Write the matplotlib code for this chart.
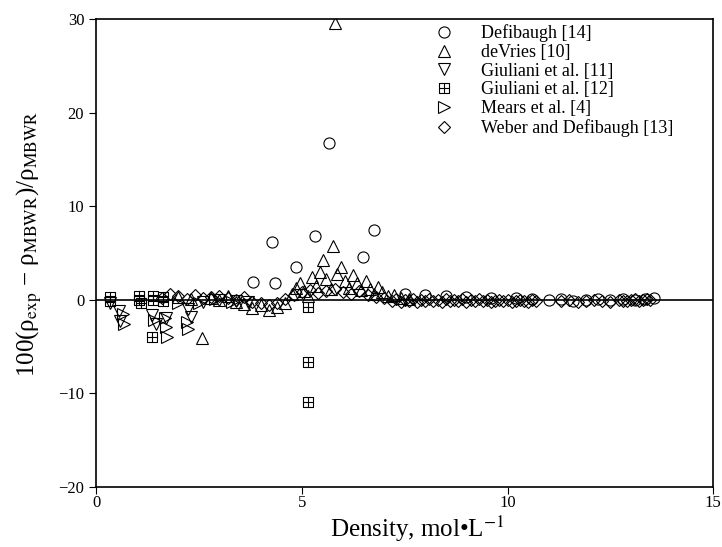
import matplotlib
matplotlib.use("Agg")
import matplotlib.pyplot as plt
from matplotlib.path import Path

plt.rcParams['font.family'] = ['Liberation Serif', 'DejaVu Serif']
plt.rcParams['mathtext.fontset'] = 'stix'

# Defibaugh [14]
defi_x = [3.82, 4.28, 4.35, 4.86, 5.32, 5.67, 6.49, 6.76, 7.5, 8.0, 8.5, 9.0, 9.6,
          10.2, 10.6, 11.0, 11.3, 11.6, 11.9, 12.2, 12.5, 12.8, 13.1, 13.35, 13.55]
defi_y = [1.9, 6.2, 1.8, 3.5, 6.8, 16.8, 4.6, 7.5, 0.6, 0.5, 0.4, 0.3, 0.2,
          0.2, 0.1, 0.0, 0.1, -0.1, 0.0, 0.1, 0.0, 0.1, 0.0, 0.1, 0.2]

# deVries [10]
devr_x = [2.0, 2.3, 2.58, 2.8, 3.0, 3.2, 3.4, 3.6, 3.8, 4.0, 4.2, 4.4, 4.6, 4.75,
          4.85, 4.95, 5.05, 5.15, 5.25, 5.35, 5.45, 5.52, 5.6, 5.7, 5.76, 5.81,
          5.85, 5.96, 6.05, 6.15, 6.25, 6.35, 6.45, 6.55, 6.65, 6.75, 6.85, 6.95,
          7.1, 7.25, 7.4, 7.6]
devr_y = [0.3, 0.1, -4.1, 0.2, 0.0, 0.4, -0.2, -0.5, -0.9, -0.6, -1.1, -0.8, -0.4, 0.6,
          1.3, 1.8, 0.9, 0.4, 2.4, 1.5, 3.0, 4.3, 2.2, 1.2, 5.7, 29.6,
          2.8, 3.5, 2.0, 1.3, 2.6, 1.8, 1.0, 2.0, 1.2, 0.6, 1.4, 0.8,
          0.4, 0.5, 0.2, 0.1]

# Giuliani et al. [11]
giu11_x = [0.35, 0.55, 0.58, 1.36, 1.45, 1.7, 2.24, 2.3, 2.6, 3.0, 3.4, 3.7]
giu11_y = [-0.4, -1.2, -2.3, -1.6, -2.6, -1.9, -1.0, -1.8, -0.2, 0.0, -0.1, -0.2]

# Giuliani et al. [12]
giu12_x = [0.34, 0.34, 1.05, 1.05, 1.1, 1.39, 1.39, 1.36, 1.63, 1.63, 5.15, 5.15, 5.15]
giu12_y = [0.3, -0.1, 0.4, 0.0, -0.3, 0.4, 0.0, -4.0, 0.3, -0.1, -0.8, -6.7, -10.9]

# Mears et al. [4]
mears_x = [0.66, 0.68, 1.4, 1.68, 1.7, 1.72, 2.0, 2.22, 2.24, 2.5, 2.9, 3.3]
mears_y = [-1.5, -2.6, -2.2, -2.0, -2.9, -4.0, -0.3, -2.4, -3.1, -0.3, 0.1, -0.2]

# Weber and Defibaugh [13]
weber_x = [1.6, 1.8, 2.0, 2.2, 2.4, 2.6, 2.8, 3.0, 3.2, 3.4, 3.6, 3.8, 4.0, 4.2,
           4.4, 4.6, 4.8, 5.0, 5.2, 5.4, 5.6, 5.8, 6.0, 6.2, 6.4, 6.6, 6.8, 7.0,
           7.2, 7.3, 7.4, 7.5, 7.6, 7.7, 7.8, 7.9, 8.0, 8.1, 8.2, 8.3, 8.4, 8.5,
           8.6, 8.7, 8.8, 8.9, 9.0, 9.1, 9.2, 9.3, 9.4, 9.5, 9.6, 9.7, 9.8, 9.9,
           10.0, 10.1, 10.2, 10.3, 10.4, 10.5, 10.6, 10.7,
           11.3, 11.5, 11.7, 11.9, 12.1, 12.3, 12.5, 12.7, 12.8, 12.9, 13.0, 13.1,
           13.2, 13.3, 13.4, 13.45]
weber_y = [0.2, 0.6, 0.4, 0.1, 0.5, 0.2, 0.3, 0.4, 0.2, 0.0, 0.3, -0.2, -0.4, -0.6,
           -0.3, 0.1, 0.5, 0.8, 1.0, 0.7, 0.9, 1.2, 0.8, 0.6, 0.9, 0.5, 0.3, 0.2,
           -0.1, 0.1, -0.2, 0.0, -0.1, 0.1, -0.2, 0.0, -0.1, 0.1, -0.1, 0.0, -0.2, 0.1,
           -0.1, 0.0, -0.1, 0.1, -0.2, 0.0, -0.1, 0.1, -0.1, 0.0, -0.2, -0.1, 0.0, -0.1,
           0.0, -0.2, -0.1, 0.0, -0.1, -0.2, 0.0, -0.1,
           -0.1, 0.0, -0.2, -0.1, 0.0, -0.1, -0.2, 0.0, -0.1, -0.1, 0.0, 0.1,
           -0.1, 0.0, 0.1, 0.0]

labels = ['Defibaugh [14]', 'deVries [10]', 'Giuliani et al. [11]',
          'Giuliani et al. [12]', 'Mears et al. [4]', 'Weber and Defibaugh [13]']

# square with a cross inside
boxplus = Path([(-1, -1), (1, -1), (1, 1), (-1, 1), (-1, -1), (-1, 0), (1, 0), (0, -1), (0, 1)],
               [Path.MOVETO, Path.LINETO, Path.LINETO, Path.LINETO, Path.CLOSEPOLY,
                Path.MOVETO, Path.LINETO, Path.MOVETO, Path.LINETO])

fig = plt.figure(figsize=(7.22, 5.47), dpi=100)
ax = fig.add_axes([0.133, 0.110, 0.855, 0.855])

series = [(defi_x, defi_y, 'o', 8), (devr_x, devr_y, '^', 8.5), (giu11_x, giu11_y, 'v', 8),
          (giu12_x, giu12_y, boxplus, 7), (mears_x, mears_y, '>', 8), (weber_x, weber_y, 'D', 6.5)]
for (xs, ys, m, ms), lab in zip(series, labels):
    ax.plot(xs, ys, linestyle='none', marker=m, ms=ms, mfc='none', mec='black',
            mew=0.8, label=lab)

ax.axhline(0, color='black', lw=1.2, zorder=0)
ax.set_xlim(0, 15)
ax.set_ylim(-20, 30)
ax.set_xticks([0, 5, 10, 15])
ax.set_yticks([-20, -10, 0, 10, 20, 30])
ax.set_yticklabels(['\u221220', '\u221210', '0', '10', '20', '30'])
ax.tick_params(direction='out', length=5, labelsize=12, top=False, right=False)
ax.tick_params(axis='x', pad=1)
for s in ax.spines.values():
    s.set_linewidth(1.2)

ax.set_xlabel('Density, mol\u2022L$^{-1}$', fontsize=18)
ax.set_ylabel('100(\u03c1$_{\\rm exp}$ \u2212 \u03c1$_{\\rm MBWR}$)/\u03c1$_{\\rm MBWR}$',
              fontsize=18)
ax.xaxis.set_label_coords(0.52, -0.058)
ax.yaxis.set_label_coords(-0.085, 0.52)

ax.legend(loc='upper left', bbox_to_anchor=(0.516, 1.024), frameon=False, fontsize=13,
          handletextpad=1.3, labelspacing=0.1, handlelength=1.5)

fig.savefig('out.png', dpi=100)
